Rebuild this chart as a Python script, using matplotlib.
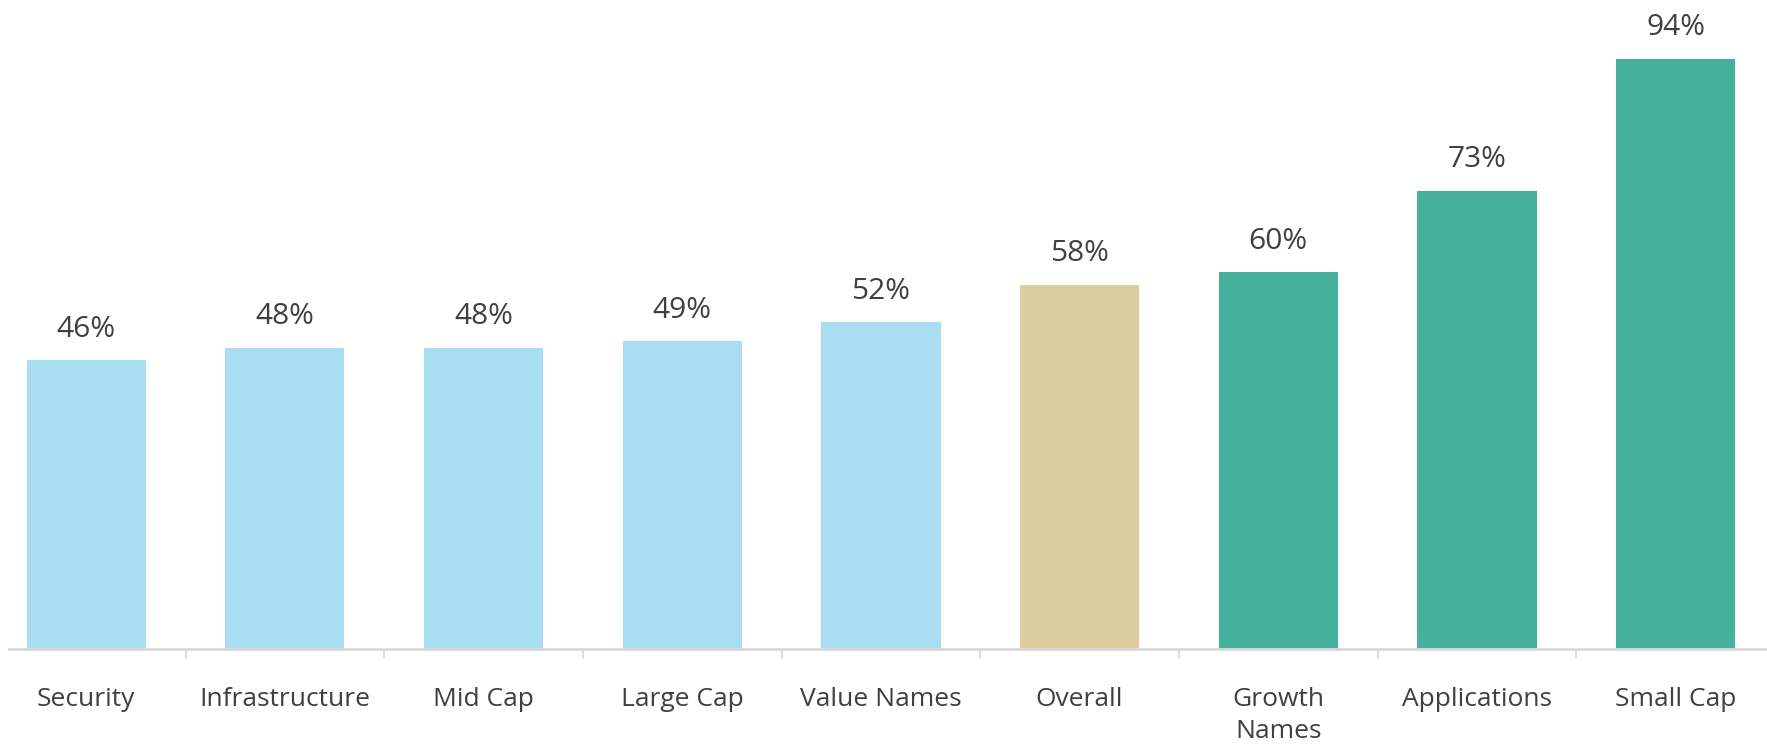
import numpy as np
import matplotlib.pyplot as plt

categories = ['Security', 'Infrastructure', 'Mid Cap', 'Large Cap', 'Value Names',
              'Overall', 'Growth\nNames', 'Applications', 'Small Cap']
values = [46, 48, 48, 49, 52, 58, 60, 73, 94]
groups = ['low', 'low', 'low', 'low', 'low', 'mid', 'high', 'high', 'high']

colours = {'low': '#A8DCF0', 'mid': '#DDCD9E', 'high': '#45B09B'}

plt.rcParams['font.family'] = ['Open Sans', 'DejaVu Sans']

fig = plt.figure(figsize=(17.67, 7.47), dpi=100)
ax = fig.add_axes([0, 98 / 747, 1, 628 / 747])

x = np.arange(len(categories))
bars = ax.bar(x, values, width=0.6, color=[colours[g] for g in groups], zorder=2)

for b, v in zip(bars, values):
    ax.text(b.get_x() + b.get_width() / 2, v + 2.6, f'{v}%', ha='center', va='bottom',
            fontsize=21.5, color='#404040')

ax.set_xlim(-0.434, 8.46)
ax.set_ylim(0, 100)

# labels on the bars, tick marks between them
ax.set_xticks(x)
ax.set_xticklabels(categories, fontsize=19, color='#404040', linespacing=1.4, va='top')
ax.tick_params(axis='x', which='major', length=0, pad=27)
ax.set_xticks(x[:-1] + 0.5, minor=True)
ax.tick_params(axis='x', which='minor', length=7, width=1.2, color='#D9D9D9')

ax.set_yticks([])
for s in ['top', 'right', 'left']:
    ax.spines[s].set_visible(False)
ax.spines['bottom'].set_color('#D9D9D9')
ax.spines['bottom'].set_linewidth(2)
ax.spines['bottom'].set_bounds(-0.39, 8.46)

plt.savefig('out.png', dpi=100)
